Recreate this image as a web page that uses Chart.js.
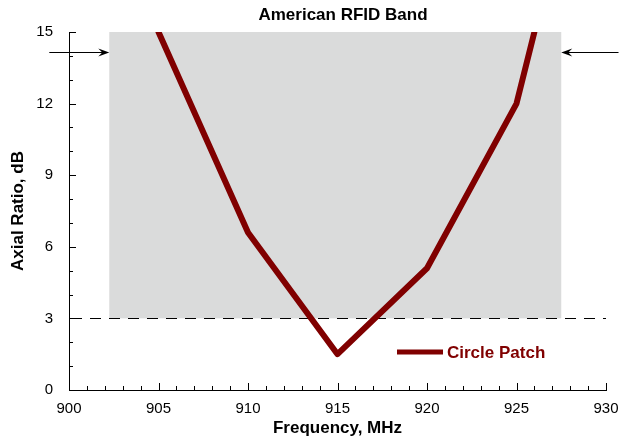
<!DOCTYPE html>
<html>
<head>
<meta charset="utf-8">
<script src="https://cdn.jsdelivr.net/npm/chart.js@4/dist/chart.umd.min.js"></script>
<style>
  html, body { margin: 0; padding: 0; background: #fff; }
  #wrap { width: 636px; height: 447px; }
</style>
</head>
<body>
<div id="wrap"><canvas id="arChart"></canvas></div>
<script>
// Measured axial ratio of the circle patch
const freqs = [905, 910, 915, 920, 925, 926];
const axialRatio = [15, 6.6, 1.5, 5.1, 12, 15];

// American RFID band and 3 dB limit
const bandStart = 902.25;
const bandEnd = 927.5;
const bandTop = 15;
const arLimit = 3;
const arrowLevel = 14.15;
const arrowFrom = [898.9, 930.7];

const xTicks = [900, 905, 910, 915, 920, 925, 930];
const yTicks = [0, 3, 6, 9, 12, 15];

const maroon = '#800000';

// Draw band, limit line, arrows, inward ticks, title and legend
const decorPlugin = {
    id: 'decor',
    beforeDatasetsDraw(chart) {
        const { ctx, chartArea: a, scales: { x, y } } = chart;
        ctx.save();
        // gray band
        ctx.fillStyle = '#dadbdb';
        const x0 = x.getPixelForValue(bandStart);
        const x1 = x.getPixelForValue(bandEnd);
        const yT = y.getPixelForValue(bandTop);
        const yB = y.getPixelForValue(arLimit);
        ctx.fillRect(x0, yT, x1 - x0, yB - yT);
        // dashed 3 dB line
        ctx.strokeStyle = '#000';
        ctx.lineWidth = 1;
        ctx.setLineDash([11, 8]);
        ctx.beginPath();
        ctx.moveTo(a.left + 2, Math.round(yB) + 0.5);
        ctx.lineTo(a.right, Math.round(yB) + 0.5);
        ctx.stroke();
        ctx.restore();
    },
    afterDraw(chart) {
        const { ctx, chartArea: a, scales: { x, y } } = chart;
        ctx.save();
        ctx.strokeStyle = '#000';
        ctx.fillStyle = '#000';
        ctx.lineWidth = 1;

        // inward ticks
        for (let v = 900; v <= 930; v++) {
            const px = Math.round(x.getPixelForValue(v)) + 0.5;
            const len = (v % 5 === 0) ? 7 : 4;
            ctx.beginPath();
            ctx.moveTo(px, a.bottom);
            ctx.lineTo(px, a.bottom - len);
            ctx.stroke();
        }
        for (let v = 0; v <= 15; v++) {
            const py = Math.round(y.getPixelForValue(v)) + 0.5;
            const len = (v % 3 === 0) ? 7 : 4;
            ctx.beginPath();
            ctx.moveTo(a.left, py);
            ctx.lineTo(a.left + len, py);
            ctx.stroke();
        }

        // arrows pointing at band edges
        const ay = Math.round(y.getPixelForValue(arrowLevel)) + 0.5;
        const drawArrow = (fromV, toV) => {
            const fx = x.getPixelForValue(fromV);
            const tx = x.getPixelForValue(toV);
            const dir = tx > fx ? 1 : -1;
            ctx.beginPath();
            ctx.moveTo(fx, ay);
            ctx.lineTo(tx - dir * 6, ay);
            ctx.stroke();
            ctx.beginPath();
            ctx.moveTo(tx, ay);
            ctx.lineTo(tx - dir * 11, ay - 4);
            ctx.lineTo(tx - dir * 7, ay);
            ctx.lineTo(tx - dir * 11, ay + 4);
            ctx.closePath();
            ctx.fill();
        };
        drawArrow(arrowFrom[0], bandStart);
        drawArrow(arrowFrom[1], bandEnd);

        // title
        ctx.font = 'bold 17px "Liberation Sans", Arial, sans-serif';
        ctx.textAlign = 'center';
        ctx.textBaseline = 'middle';
        ctx.fillText('American RFID Band', 343, 15);

        // legend
        const ly = 352;
        ctx.strokeStyle = maroon;
        ctx.lineWidth = 5;
        ctx.beginPath();
        ctx.moveTo(397, ly);
        ctx.lineTo(443, ly);
        ctx.stroke();
        ctx.fillStyle = maroon;
        ctx.textAlign = 'left';
        ctx.fillText(chart.data.datasets[0].label, 447, ly + 1);
        ctx.restore();
    }
};

const ctx = document.getElementById('arChart').getContext('2d');
const arChart = new Chart(ctx, {
    type: 'line',
    data: {
        datasets: [{
            label: 'Circle Patch',
            data: freqs.map((f, i) => ({ x: f, y: axialRatio[i] })),
            borderColor: maroon,
            borderWidth: 6,
            borderJoinStyle: 'round',
            borderCapStyle: 'round',
            pointRadius: 0,
            tension: 0,
            fill: false
        }]
    },
    options: {
        responsive: true,
        maintainAspectRatio: false,
        animation: false,
        layout: { padding: { top: 32, right: 30, left: 0, bottom: 0 } },
        plugins: {
            legend: { display: false },
            title: { display: false },
            tooltip: { enabled: false }
        },
        scales: {
            x: {
                type: 'linear',
                min: 900,
                max: 930,
                afterBuildTicks: s => { s.ticks = xTicks.map(v => ({ value: v })); },
                afterFit: s => { s.height = 57; },
                grid: { display: false, drawTicks: false },
                border: { display: true, color: '#000', width: 1 },
                ticks: {
                    padding: 10,
                    color: '#000',
                    font: { family: '"Liberation Sans", Arial, sans-serif', size: 15 },
                    maxRotation: 0
                },
                title: {
                    display: true,
                    text: 'Frequency, MHz',
                    color: '#000',
                    font: { family: '"Liberation Sans", Arial, sans-serif', size: 17, weight: 'bold' },
                    padding: { top: 0, bottom: 8 }
                }
            },
            y: {
                type: 'linear',
                min: 0,
                max: 15,
                afterBuildTicks: s => { s.ticks = yTicks.map(v => ({ value: v })); },
                afterFit: s => { s.width = 69; },
                grid: { display: false, drawTicks: false },
                border: { display: true, color: '#000', width: 1 },
                ticks: {
                    padding: 16,
                    color: '#000',
                    font: { family: '"Liberation Sans", Arial, sans-serif', size: 15 }
                },
                title: {
                    display: true,
                    text: 'Axial Ratio, dB',
                    color: '#000',
                    font: { family: '"Liberation Sans", Arial, sans-serif', size: 17, weight: 'bold' },
                    padding: { top: 8, bottom: 0 }
                }
            }
        }
    },
    plugins: [decorPlugin]
});
</script>
</body>
</html>
